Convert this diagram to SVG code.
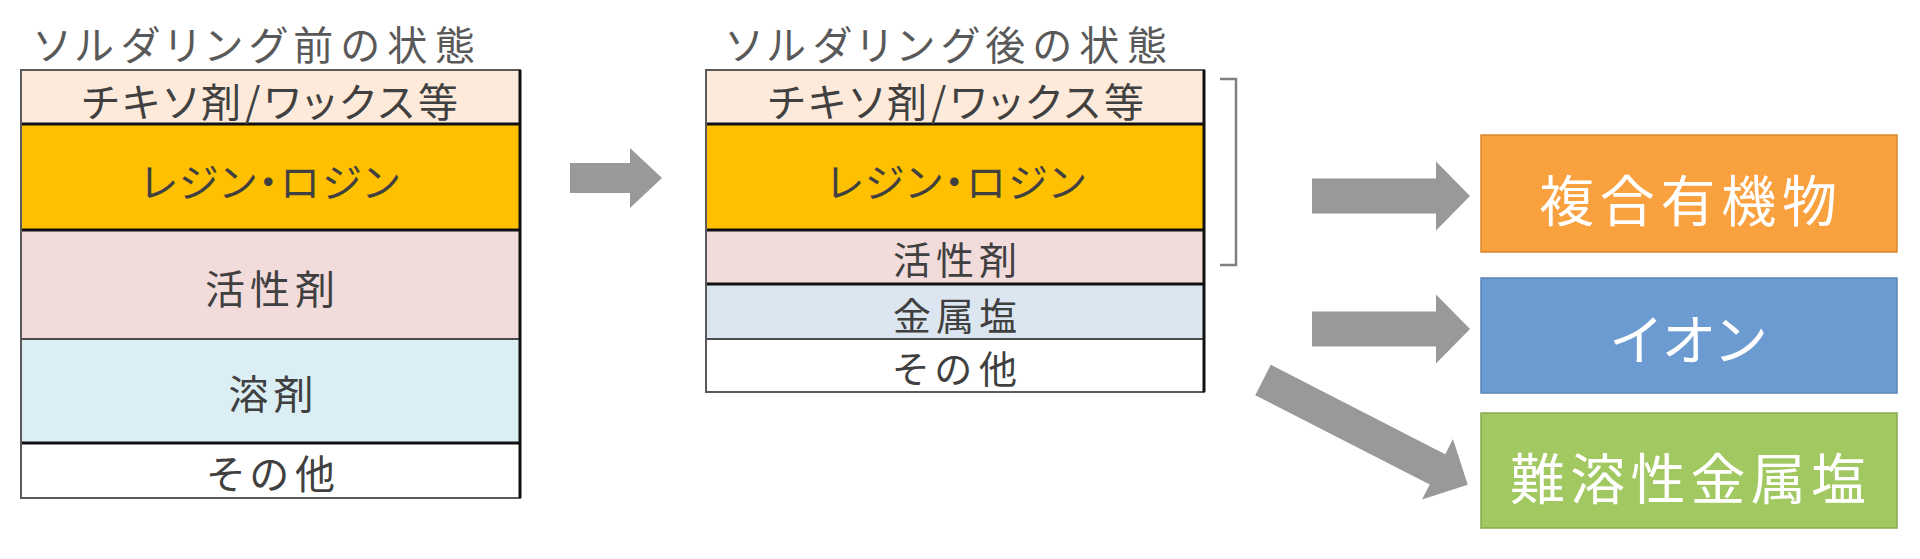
<svg xmlns="http://www.w3.org/2000/svg" width="1920" height="559" viewBox="0 0 1920 559">
<style>
text{font-family:"Noto Sans CJK JP","Noto Sans CJK SC",sans-serif;dominant-baseline:central;text-anchor:middle;font-feature-settings:"palt";}
.title{fill:#595959;font-size:40px;text-anchor:start;}
.lbl{fill:#404040;font-size:40px;}
.sm{font-size:38px;}
.big{fill:#ffffff;font-size:55px;}
.sepB{stroke:#111;stroke-width:3;}
.sepG{stroke:#4a4a4a;stroke-width:2;}
.outer{fill:none;stroke:#5a5a5a;stroke-width:2;}
.rgt{stroke:#111;stroke-width:3;}
.arr{fill:#999999;}
</style>
<rect width="1920" height="559" fill="#ffffff"/>

<g id="title-before"><text class="title" x="35" y="42.5" textLength="440" lengthAdjust="spacing">ソルダリング前の状態</text></g>
<g id="title-after"><text class="title" x="727" y="42.5" textLength="440" lengthAdjust="spacing">ソルダリング後の状態</text></g>

<g id="before-stack">
<rect x="21" y="70" width="499" height="54" fill="#FDEADA"/>
<rect x="21" y="124" width="499" height="106" fill="#FFC000"/>
<rect x="21" y="230" width="499" height="109" fill="#F2DCDB"/>
<rect x="21" y="339" width="499" height="104" fill="#DAEEF3"/>
<rect x="21" y="443" width="499" height="55" fill="#FFFFFF"/>
<line class="sepB" x1="21" y1="124" x2="520" y2="124"/>
<line class="sepB" x1="21" y1="230" x2="520" y2="230"/>
<line class="sepG" x1="21" y1="339" x2="520" y2="339"/>
<line class="sepB" x1="21" y1="443" x2="520" y2="443"/>
<rect class="outer" x="21" y="70" width="499" height="428"/>
<line class="rgt" x1="520" y1="70" x2="520" y2="498"/>
<text class="lbl" x="270" y="100" textLength="376" lengthAdjust="spacing">チキソ剤/ワックス等</text>
<text class="lbl" x="270" y="180" textLength="258" lengthAdjust="spacing">レジン・ロジン</text>
<text class="lbl" x="270" y="287" textLength="130" lengthAdjust="spacing">活性剤</text>
<text class="lbl" x="271" y="392" textLength="85" lengthAdjust="spacing">溶剤</text>
<text class="lbl" x="271" y="472" textLength="128" lengthAdjust="spacing">その他</text>
</g>

<g id="after-stack">
<rect x="706" y="70" width="498" height="54" fill="#FDEADA"/>
<rect x="706" y="124" width="498" height="106" fill="#FFC000"/>
<rect x="706" y="230" width="498" height="54" fill="#F2DCDB"/>
<rect x="706" y="284" width="498" height="55" fill="#DCE6F1"/>
<rect x="706" y="339" width="498" height="53" fill="#FFFFFF"/>
<line class="sepB" x1="706" y1="124" x2="1204" y2="124"/>
<line class="sepB" x1="706" y1="230" x2="1204" y2="230"/>
<line class="sepB" x1="706" y1="284" x2="1204" y2="284"/>
<line class="sepG" x1="706" y1="339" x2="1204" y2="339"/>
<rect class="outer" x="706" y="70" width="498" height="322"/>
<line class="rgt" x1="1204" y1="70" x2="1204" y2="392"/>
<text class="lbl" x="956" y="100" textLength="376" lengthAdjust="spacing">チキソ剤/ワックス等</text>
<text class="lbl" x="956" y="180" textLength="258" lengthAdjust="spacing">レジン・ロジン</text>
<text class="lbl sm" x="955" y="257" textLength="124" lengthAdjust="spacing">活性剤</text>
<text class="lbl sm" x="955" y="313" textLength="124" lengthAdjust="spacing">金属塩</text>
<text class="lbl sm" x="955" y="366" textLength="124" lengthAdjust="spacing">その他</text>
</g>

<g id="bracket"><path d="M1220,79 H1236 V265 H1220" fill="none" stroke="#808080" stroke-width="2.5"/></g>

<g id="result-organic">
<rect x="1481" y="135" width="416" height="117" fill="#F9A03F" stroke="#D8862E" stroke-width="1.5"/>
<text class="big" x="1688" y="197" textLength="298" lengthAdjust="spacing">複合有機物</text>
</g>
<g id="result-ion">
<rect x="1481" y="278" width="416" height="115" fill="#6C9BD2" stroke="#5A84B6" stroke-width="1.5"/>
<text class="big" x="1688" y="336" textLength="154" lengthAdjust="spacing">イオン</text>
</g>
<g id="result-salt">
<rect x="1481" y="413" width="416" height="115" fill="#A1C861" stroke="#87AA4F" stroke-width="1.5"/>
<text class="big" x="1688" y="475" textLength="356" lengthAdjust="spacing">難溶性金属塩</text>
</g>

<g id="connectors">
<polygon class="arr" points="570,163 630,163 630,148 662,178 630,208 630,193 570,193"/>
<polygon class="arr" points="1312,178.5 1436,178.5 1436,161.5 1470,196 1436,230.5 1436,213.5 1312,213.5"/>
<polygon class="arr" points="1312,311.5 1436,311.5 1436,294.5 1470,329 1436,363.5 1436,346.5 1312,346.5"/>
<polygon class="arr" transform="translate(1263,380) rotate(27.1)" points="0,-17 196,-17 196,-34 230,0 196,34 196,17 0,17"/>
</g>
</svg>
